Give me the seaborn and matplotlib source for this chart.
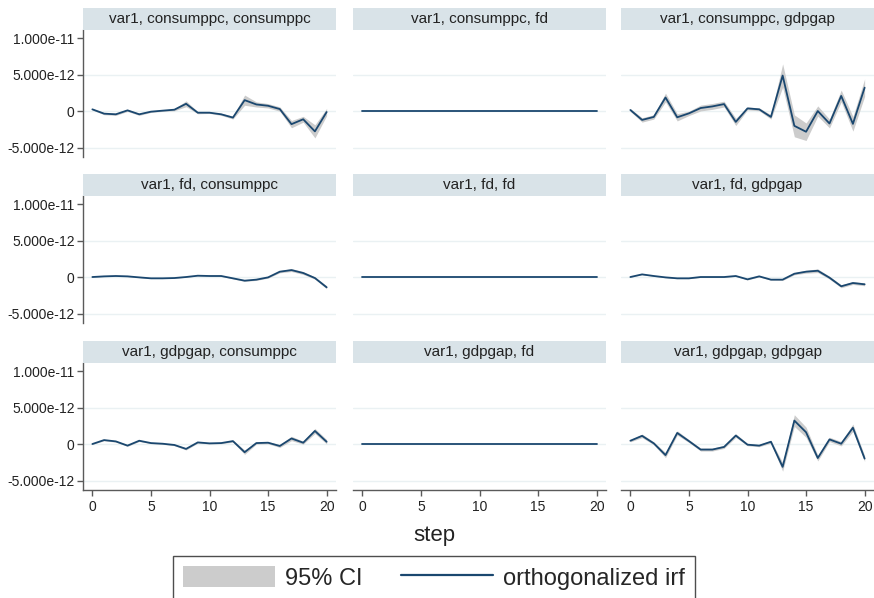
import matplotlib
matplotlib.use("Agg")
import matplotlib.pyplot as plt
from matplotlib.patches import Rectangle, Patch
from matplotlib.lines import Line2D
import numpy as np
import pandas as pd
import seaborn as sns

sns.set_theme(style="white")
plt.rcParams["font.family"] = ["Liberation Sans", "DejaVu Sans"]

# Impulse-response steps
steps = list(range(21))

# Orthogonalized IRF values, in units of 1e-12 (impulse, response)
irf_cons_cons = [0.23, -0.36, -0.45, 0.09, -0.45, -0.09, 0.05, 0.18, 0.99, -0.23, -0.23,
                 -0.45, -0.90, 1.49, 0.90, 0.72, 0.27, -1.80, -1.13, -2.79, -0.14]
irf_cons_fd = [0.0] * 21
irf_cons_gdp = [0.14, -1.22, -0.81, 1.85, -0.86, -0.32, 0.41, 0.63, 0.95, -1.49, 0.36,
                0.23, -0.81, 4.86, -2.03, -2.84, 0.00, -1.71, 2.07, -1.76, 3.20]
irf_fd_cons = [0.00, 0.09, 0.14, 0.09, -0.05, -0.18, -0.18, -0.14, 0.00, 0.18, 0.14,
               0.14, -0.18, -0.50, -0.36, -0.05, 0.73, 0.95, 0.55, -0.14, -1.41]
irf_fd_fd = [0.0] * 21
irf_fd_gdp = [0.00, 0.36, 0.14, -0.05, -0.18, -0.18, 0.00, 0.00, 0.00, 0.14, -0.32,
              0.09, -0.36, -0.36, 0.45, 0.73, 0.86, -0.09, -1.27, -0.82, -1.00]
irf_gdp_cons = [0.00, 0.54, 0.36, -0.22, 0.45, 0.13, 0.04, -0.13, -0.67, 0.22, 0.09,
                0.13, 0.40, -1.12, 0.13, 0.18, -0.27, 0.76, 0.18, 1.79, 0.31]
irf_gdp_fd = [0.0] * 21
irf_gdp_gdp = [0.45, 1.12, 0.09, -1.52, 1.52, 0.40, -0.76, -0.76, -0.40, 1.16, -0.09,
               -0.22, 0.31, -3.13, 3.21, 1.61, -1.92, 0.63, 0.04, 2.23, -2.00]

# Half-width of the 95% confidence band, in units of 1e-12
ci_cons_cons = [0.10, 0.15, 0.15, 0.15, 0.15, 0.10, 0.10, 0.15, 0.40, 0.15, 0.10,
                0.15, 0.20, 0.70, 0.35, 0.30, 0.30, 0.50, 0.40, 0.90, 0.50]
ci_cons_fd = [0.02] * 21
ci_cons_gdp = [0.20, 0.30, 0.30, 0.60, 0.50, 0.30, 0.40, 0.40, 0.40, 0.50, 0.20,
               0.20, 0.30, 1.60, 1.50, 1.20, 0.70, 0.60, 0.80, 1.00, 1.20]
ci_fd_cons = [0.03, 0.03, 0.03, 0.03, 0.03, 0.03, 0.03, 0.03, 0.03, 0.03, 0.03,
              0.05, 0.08, 0.10, 0.10, 0.10, 0.15, 0.20, 0.20, 0.15, 0.20]
ci_fd_fd = [0.02] * 21
ci_fd_gdp = [0.03, 0.05, 0.05, 0.05, 0.05, 0.05, 0.05, 0.05, 0.05, 0.05, 0.08,
             0.08, 0.08, 0.10, 0.15, 0.20, 0.25, 0.20, 0.20, 0.20, 0.20]
ci_gdp_cons = [0.05, 0.10, 0.10, 0.10, 0.10, 0.08, 0.08, 0.10, 0.15, 0.10, 0.08,
               0.08, 0.15, 0.30, 0.15, 0.15, 0.20, 0.30, 0.20, 0.35, 0.30]
ci_gdp_fd = [0.02] * 21
ci_gdp_gdp = [0.15, 0.25, 0.20, 0.35, 0.30, 0.20, 0.20, 0.20, 0.20, 0.25, 0.15,
              0.15, 0.20, 0.60, 0.80, 0.70, 0.40, 0.30, 0.30, 0.50, 0.40]

panel_titles = [
    "var1, consumppc, consumppc", "var1, consumppc, fd", "var1, consumppc, gdpgap",
    "var1, fd, consumppc", "var1, fd, fd", "var1, fd, gdpgap",
    "var1, gdpgap, consumppc", "var1, gdpgap, fd", "var1, gdpgap, gdpgap",
]
panel_irf = [irf_cons_cons, irf_cons_fd, irf_cons_gdp,
             irf_fd_cons, irf_fd_fd, irf_fd_gdp,
             irf_gdp_cons, irf_gdp_fd, irf_gdp_gdp]
panel_ci = [ci_cons_cons, ci_cons_fd, ci_cons_gdp,
            ci_fd_cons, ci_fd_fd, ci_fd_gdp,
            ci_gdp_cons, ci_gdp_fd, ci_gdp_gdp]

ytick_values = [-5e-12, 0, 5e-12, 1e-11]
ytick_labels = ["-5.000e-12", "0", "5.000e-12", "1.000e-11"]
xtick_values = [0, 5, 10, 15, 20]

UNIT = 1e-12
rows = []
for title, irf, ci in zip(panel_titles, panel_irf, panel_ci):
    for s, v, h in zip(steps, irf, ci):
        rows.append({"panel": title, "step": s, "irf": v * UNIT,
                     "lo": (v - h) * UNIT, "hi": (v + h) * UNIT})
df = pd.DataFrame(rows)

NAVY = "#1a476f"
CI_GRAY = "#cccccc"
STRIP = "#d9e3e8"
GRID = "#eaf1f3"
AXIS = "#5a5a5a"

W, H = 874, 598
fig = plt.figure(figsize=(W / 100, H / 100), dpi=100)
fig.patch.set_facecolor("white")

col_left = [83, 353, 621]
col_width = 253
row_top = [30, 196, 363]
row_height = 127
strip_h = 22

for i, title in enumerate(panel_titles):
    r, c = divmod(i, 3)
    left = col_left[c] / W
    bottom = 1 - (row_top[r] + row_height) / H
    ax = fig.add_axes([left, bottom, col_width / W, row_height / H])
    ax.set_facecolor("white")
    sub = df[df["panel"] == title]

    for g in [-5e-12, 0, 5e-12]:
        ax.axhline(g, color=GRID, lw=1.0, zorder=0)
    ax.fill_between(sub["step"], sub["lo"], sub["hi"], color=CI_GRAY, lw=0, zorder=1)
    sns.lineplot(data=sub, x="step", y="irf", ax=ax, color=NAVY, lw=1.3,
                 errorbar=None, zorder=2)

    ax.set_xlim(-0.8, 20.8)
    ax.set_ylim(-6.3e-12, 11.1e-12)
    ax.set_xlabel("")
    ax.set_ylabel("")
    for sp in ax.spines.values():
        sp.set_visible(False)

    if c == 0:
        ax.spines["left"].set_visible(True)
        ax.spines["left"].set_color(AXIS)
        ax.spines["left"].set_linewidth(1.0)
        ax.set_yticks(ytick_values)
        ax.set_yticklabels(ytick_labels)
        ax.tick_params(axis="y", length=4, width=1, color=AXIS, pad=2,
                       labelsize=10, labelcolor="#222222", left=True)
    else:
        ax.set_yticks([])

    if r == 2:
        ax.spines["bottom"].set_visible(True)
        ax.spines["bottom"].set_color(AXIS)
        ax.spines["bottom"].set_linewidth(1.0)
        ax.set_xticks(xtick_values)
        ax.set_xticklabels([str(v) for v in xtick_values])
        ax.tick_params(axis="x", length=4, width=1, color=AXIS, pad=3,
                       labelsize=10, labelcolor="#222222", bottom=True)
    else:
        ax.set_xticks([])

    # panel title strip
    ax.add_patch(Rectangle((0, 1.0), 1, strip_h / row_height, transform=ax.transAxes,
                           facecolor=STRIP, edgecolor="none", clip_on=False, zorder=3))
    ax.text(0.5, 1.0 + (strip_h / 2) / row_height, title, transform=ax.transAxes,
            ha="center", va="center", fontsize=11, color="#222222", zorder=4)

fig.text(434 / W, 1 - 535 / H, "step", ha="center", va="center", fontsize=16,
         color="#222222")

handles = [Patch(facecolor=CI_GRAY, edgecolor="none"),
           Line2D([0], [0], color=NAVY, lw=1.6)]
leg = fig.legend(handles, ["95% CI", "orthogonalized irf"], ncol=2,
                 loc="upper center", bbox_to_anchor=(434 / W, 1 - 556 / H),
                 fontsize=17, frameon=True, fancybox=False, edgecolor="#222222",
                 handlelength=3.9, handleheight=1.0, handletextpad=0.45,
                 columnspacing=1.6, borderpad=0.42, borderaxespad=0)
leg.get_frame().set_linewidth(1.0)

fig.savefig("out.png", dpi=100, facecolor="white")
